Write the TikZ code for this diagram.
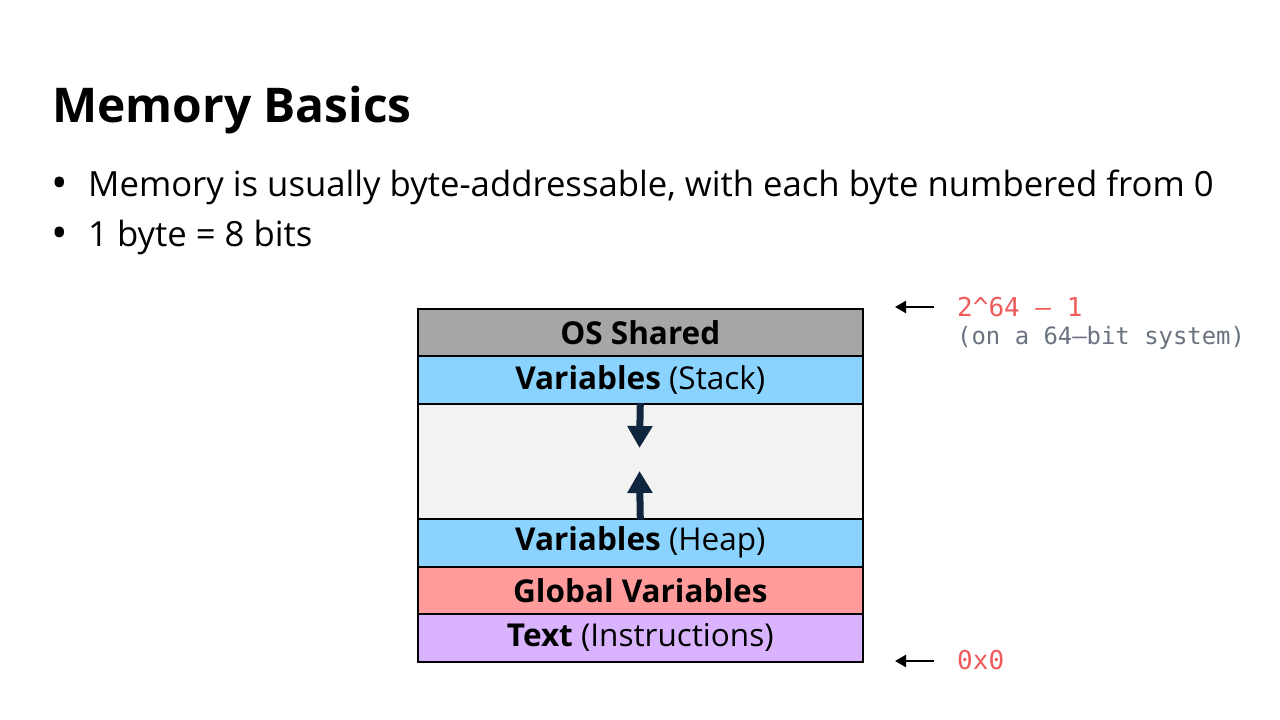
\documentclass[tikz,border=0pt]{standalone}
\usepackage{fontspec}
\setmainfont{Open Sans}
\setmonofont{DejaVu Sans Mono}
\usetikzlibrary{arrows.meta}
\definecolor{osgray}{HTML}{A6A6A6}
\definecolor{varblue}{HTML}{89D3FE}
\definecolor{gapgray}{HTML}{F2F2F2}
\definecolor{globred}{HTML}{FF9B9B}
\definecolor{textpurple}{HTML}{D9B3FE}
\definecolor{navy}{HTML}{10263F}
\definecolor{addrred}{HTML}{EF5B5B}
\definecolor{notegray}{HTML}{6B7280}
\tikzset{
  seg/.style={draw=black, line width=1.6pt, minimum width=445pt, inner sep=0pt, anchor=north west, font=\fontsize{31.5}{34}\selectfont},
  growarrow/.style={navy, line width=7pt, -{Triangle[width=24pt,length=22pt]}},
  ptr/.style={black, line width=2.4pt, -{Triangle[width=12pt,length=11pt]}},
  body/.style={anchor=base west, inner sep=0pt, font=\fontsize{34.7}{38}\selectfont},
  bul/.style={anchor=base west, inner sep=0pt, font=\fontsize{44}{48}\selectfont},
}
\begin{document}
\begin{tikzpicture}[x=1pt,y=-1pt]
\useasboundingbox (0,0) rectangle (1280,720);
\fill[white] (0,0) rectangle (1280,720);
\node[anchor=base west, inner sep=0pt, font=\fontsize{47.9}{52}\selectfont\bfseries] (title) at (52,122) {Memory Basics};
\node[bul] (b1) at (51,198) {•};
\node[body] (l1) at (88,196) {Memory is usually byte-addressable, with each byte numbered from 0};
\node[bul] (b2) at (51,248) {•};
\node[body] (l2) at (88,246) {1 byte = 8 bits};

\node[seg, fill=osgray, minimum height=47pt] (os) at (417,308) {\textbf{OS Shared}};
\node[seg, fill=varblue, minimum height=48pt] (stack) at (417,355) {\textbf{Variables} (Stack)};
\node[seg, fill=gapgray, minimum height=115pt] (gap) at (417,403) {};
\node[seg, fill=varblue, minimum height=48pt] (heap) at (417,518) {\textbf{Variables} (Heap)};
\node[seg, fill=globred, minimum height=47pt] (glob) at (417,566) {\textbf{Global Variables}};
\node[seg, fill=textpurple, minimum height=48pt] (txt) at (417,613) {\textbf{Text} (Instructions)};

\coordinate (downtip) at (639.5,448);
\coordinate (uptip) at (639.5,471);
\draw[growarrow] (gap.north) -- (downtip);
\draw[growarrow] (gap.south) -- (uptip);

\node[anchor=base west, inner sep=0pt, text=addrred, font=\ttfamily\fontsize{26}{28}\selectfont] (top) at (957,316) {2\^{}64 – 1};
\node[anchor=base west, inner sep=0pt, text=notegray, font=\ttfamily\fontsize{23.9}{26}\selectfont] (note) at (957,344) {(on a 64–bit system)};
\node[anchor=base west, inner sep=0pt, text=addrred, font=\ttfamily\fontsize{26}{28}\selectfont] (zero) at (957,669) {0x0};
\coordinate (topfrom) at (934,307);
\coordinate (topto) at (895,307);
\coordinate (zfrom) at (934,661);
\coordinate (zto) at (895,661);
\draw[ptr] (topfrom) -- (topto);
\draw[ptr] (zfrom) -- (zto);
\end{tikzpicture}
\end{document}
